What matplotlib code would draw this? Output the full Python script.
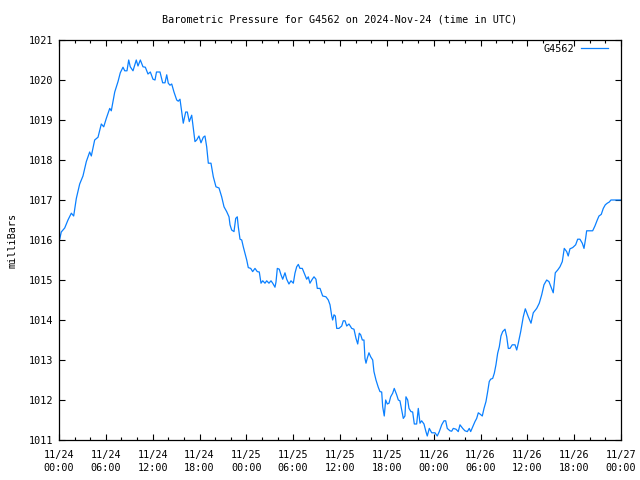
import matplotlib
matplotlib.use("Agg")
import matplotlib.pyplot as plt
from matplotlib.ticker import MultipleLocator

station = "G4562"
title = "Barometric Pressure for G4562 on 2024-Nov-24 (time in UTC)"

# hours since 2024-11-24 00:00 UTC
hours = [0.00, 0.09, 0.29, 0.73, 1.15, 1.58, 1.88, 2.22, 2.65, 3.07, 3.50, 3.93, 4.14, 4.57, 5.00,
         5.42, 5.73, 6.06, 6.50, 6.70, 7.14, 7.56, 7.85, 8.20, 8.42, 8.71, 8.93, 9.13, 9.48,
         9.90, 10.12, 10.42, 10.76, 11.06, 11.40, 11.70, 12.04, 12.30, 12.49, 12.94, 13.28,
         13.58, 13.80, 14.00, 14.22, 14.44, 14.73, 15.08, 15.28, 15.50, 15.80, 15.92, 16.23,
         16.44, 16.69, 17.00, 17.20, 17.42, 17.64, 17.93, 18.19, 18.49, 18.70, 18.92, 19.13,
         19.47, 19.77, 20.11, 20.50, 20.84, 21.14, 21.48, 21.78, 21.91, 22.12, 22.42, 22.64,
         22.84, 22.97, 23.19, 23.41, 23.61, 23.83, 24.05, 24.25, 24.56, 24.81, 25.11, 25.40,
         25.66, 25.88, 26.10, 26.39, 26.61, 26.90, 27.16, 27.38, 27.67, 27.80, 27.97, 28.22,
         28.44, 28.66, 28.95, 29.17, 29.46, 29.72, 30.02, 30.23, 30.45, 30.66, 30.87, 31.17,
         31.42, 31.73, 31.94, 32.15, 32.45, 32.67, 32.92, 33.09, 33.44, 33.78, 34.20, 34.50,
         34.72, 34.94, 35.06, 35.23, 35.40, 35.58, 35.87, 36.22, 36.42, 36.64, 36.86, 37.15,
         37.50, 37.79, 38.05, 38.27, 38.47, 38.65, 38.86, 39.07, 39.20, 39.33, 39.50, 39.71,
         39.93, 40.19, 40.35, 40.61, 40.90, 41.12, 41.34, 41.47, 41.67, 41.85, 42.06, 42.28,
         42.49, 42.75, 42.95, 43.26, 43.47, 43.68, 43.90, 44.11, 44.32, 44.45, 44.67, 44.84,
         45.09, 45.31, 45.52, 45.82, 46.03, 46.25, 46.46, 46.76, 47.01, 47.18, 47.44, 47.75,
         48.17, 48.46, 48.72, 49.03, 49.32, 49.54, 49.74, 50.09, 50.31, 50.51, 50.86, 51.15,
         51.37, 51.72, 52.01, 52.31, 52.56, 52.74, 53.00, 53.29, 53.51, 53.72, 53.93, 54.23,
         54.45, 54.70, 54.92, 55.12, 55.30, 55.56, 55.77, 55.98, 56.20, 56.41, 56.62, 56.84,
         57.14, 57.36, 57.56, 57.78, 58.07, 58.42, 58.64, 58.84, 59.15, 59.48, 59.74, 60.12,
         60.47, 60.76, 61.20, 61.53, 61.84, 62.13, 62.48, 62.77, 63.03, 63.32, 63.58, 63.89,
         64.18, 64.48, 64.73, 65.04, 65.24, 65.46, 65.81, 66.19, 66.45, 66.74, 67.04, 67.26,
         67.47, 67.60, 68.37, 68.66, 68.96, 69.18, 69.47, 69.73, 69.99, 70.24, 70.50, 70.71,
         72.00]

pressure = [1016.00, 1016.02, 1016.20, 1016.30, 1016.50, 1016.67, 1016.60, 1017.04, 1017.40, 1017.60,
            1017.96, 1018.20, 1018.10, 1018.50, 1018.57, 1018.90, 1018.83, 1019.04, 1019.29,
            1019.23, 1019.70, 1019.96, 1020.18, 1020.32, 1020.23, 1020.23, 1020.50, 1020.33,
            1020.23, 1020.50, 1020.35, 1020.50, 1020.33, 1020.32, 1020.15, 1020.20, 1020.02,
            1020.00, 1020.20, 1020.20, 1019.93, 1019.93, 1020.13, 1019.92, 1019.87, 1019.90,
            1019.70, 1019.50, 1019.47, 1019.52, 1019.08, 1018.92, 1019.20, 1019.20, 1018.96,
            1019.12, 1018.80, 1018.46, 1018.50, 1018.60, 1018.43, 1018.57, 1018.60, 1018.33,
            1017.92, 1017.92, 1017.58, 1017.33, 1017.30, 1017.08, 1016.83, 1016.71, 1016.58,
            1016.38, 1016.25, 1016.21, 1016.54, 1016.58, 1016.33, 1016.02, 1016.00, 1015.83,
            1015.67, 1015.50, 1015.31, 1015.29, 1015.21, 1015.29, 1015.21, 1015.20, 1014.92,
            1014.98, 1014.92, 1014.98, 1014.92, 1014.98, 1014.92, 1014.82, 1014.95, 1015.29,
            1015.27, 1015.13, 1015.02, 1015.18, 1015.02, 1014.90, 1014.98, 1014.92, 1015.17,
            1015.33, 1015.39, 1015.29, 1015.29, 1015.17, 1015.02, 1015.08, 1014.92, 1015.02,
            1015.08, 1015.02, 1014.79, 1014.79, 1014.60, 1014.58, 1014.50, 1014.38, 1014.10,
            1014.00, 1014.13, 1014.10, 1013.79, 1013.79, 1013.85, 1013.98, 1013.98, 1013.85,
            1013.90, 1013.79, 1013.77, 1013.54, 1013.40, 1013.67, 1013.63, 1013.50, 1013.50,
            1013.04, 1012.92, 1013.05, 1013.18, 1013.08, 1013.00, 1012.71, 1012.50, 1012.32,
            1012.21, 1012.20, 1011.83, 1011.60, 1012.00, 1011.90, 1011.92, 1012.08, 1012.17,
            1012.29, 1012.13, 1012.00, 1011.98, 1011.75, 1011.54, 1011.60, 1012.08, 1012.00,
            1011.79, 1011.71, 1011.70, 1011.40, 1011.40, 1011.79, 1011.42, 1011.48, 1011.40,
            1011.21, 1011.10, 1011.29, 1011.18, 1011.18, 1011.10, 1011.21, 1011.38, 1011.48,
            1011.48, 1011.29, 1011.23, 1011.22, 1011.29, 1011.27, 1011.21, 1011.38, 1011.29,
            1011.23, 1011.21, 1011.29, 1011.21, 1011.33, 1011.46, 1011.54, 1011.68, 1011.65,
            1011.60, 1011.79, 1011.96, 1012.21, 1012.46, 1012.52, 1012.54, 1012.67, 1012.88,
            1013.17, 1013.33, 1013.60, 1013.71, 1013.77, 1013.58, 1013.29, 1013.29, 1013.38,
            1013.38, 1013.25, 1013.42, 1013.71, 1014.08, 1014.28, 1014.08, 1013.92, 1014.18,
            1014.29, 1014.42, 1014.63, 1014.88, 1015.00, 1014.96, 1014.83, 1014.68, 1015.18,
            1015.25, 1015.33, 1015.46, 1015.79, 1015.71, 1015.60, 1015.78, 1015.81, 1015.88,
            1016.02, 1016.02, 1015.92, 1015.79, 1016.04, 1016.23, 1016.23, 1016.35, 1016.50,
            1016.60, 1016.64, 1016.79, 1016.88, 1016.92, 1016.95, 1017.00, 1017.00]

tick_hours = [0, 6, 12, 18, 24, 30, 36, 42, 48, 54, 60, 66, 72]
tick_labels = ["11/24\n00:00", "11/24\n06:00", "11/24\n12:00", "11/24\n18:00",
               "11/25\n00:00", "11/25\n06:00", "11/25\n12:00", "11/25\n18:00",
               "11/26\n00:00", "11/26\n06:00", "11/26\n12:00", "11/26\n18:00",
               "11/27\n00:00"]
y_ticks = list(range(1011, 1022))

FONT = "DejaVu Sans Mono"
FS = 7.3

fig = plt.figure(figsize=(6.4, 4.8), dpi=100)
ax = fig.add_axes([59/640, 1 - 440/480, (621 - 59)/640, 400/480])

ax.plot(hours, pressure, color="#0a80ff", linewidth=0.9, label=station)

ax.set_xlim(0, 72)
ax.set_ylim(1011, 1021)
ax.set_xticks(tick_hours)
ax.set_xticklabels(tick_labels, fontfamily=FONT, fontsize=FS, linespacing=1.45)
ax.xaxis.set_minor_locator(MultipleLocator(2))
ax.set_yticks(y_ticks)
ax.set_yticklabels([str(v) for v in y_ticks], fontfamily=FONT, fontsize=FS)

ax.tick_params(which="both", direction="in", top=True, right=True, width=0.8, colors="black")
ax.tick_params(which="major", length=4.5, pad=4)
ax.tick_params(which="minor", length=2.5)
ax.tick_params(axis="x", which="major", pad=7)
for s in ax.spines.values():
    s.set_linewidth(0.9)

ax.set_ylabel("milliBars", fontfamily=FONT, fontsize=FS, labelpad=8)
ax.set_title(title, fontfamily=FONT, fontsize=FS, pad=12.5)

leg = ax.legend(loc="upper right", bbox_to_anchor=(0.977, 0.99), frameon=False,
                markerfirst=False, prop={"family": FONT, "size": FS}, handlelength=2.7,
                borderaxespad=0, borderpad=0, handletextpad=0.6)

fig.savefig("out.png", dpi=100)
